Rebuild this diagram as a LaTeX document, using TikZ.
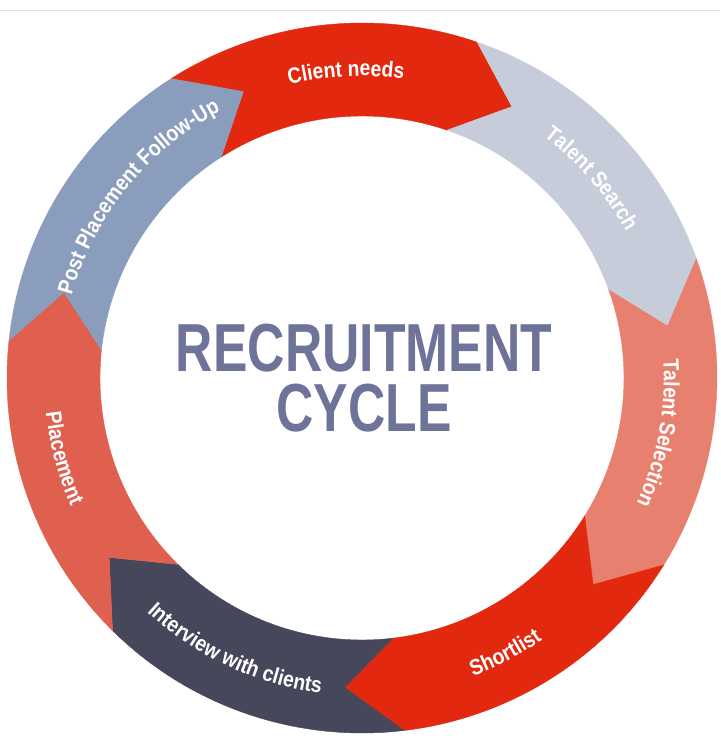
\documentclass[tikz,border=0pt]{standalone}
\usepackage{fontspec}
\newfontfamily\ringfont[FakeStretch=0.88]{Liberation Sans}
\newfontfamily\titlefont[FakeStretch=0.76]{Liberation Sans}
\usetikzlibrary{decorations.text}
\definecolor{redstep}{HTML}{E2280E}
\definecolor{searchstep}{HTML}{C6CCDA}
\definecolor{selectstep}{HTML}{E8806F}
\definecolor{interviewstep}{HTML}{47475C}
\definecolor{placestep}{HTML}{DF604E}
\definecolor{followstep}{HTML}{8B9DBC}
\definecolor{titlegray}{HTML}{6E7399}

\begin{document}
\begin{tikzpicture}[x=1pt,y=1pt,
    ringtext/.style={decorate, decoration={text along path, text align=center, text color=white,
        text={|\ringfont\bfseries\fontsize{22}{22}\selectfont|#1}}}]
    \useasboundingbox (-362,-376) rectangle (358,378);
    \draw[line width=1pt, color=black!13] (-362,367) -- (358,367);
    % ring of arrows, clockwise from the top
    \foreach \s/\c in {0/redstep,1/searchstep,2/selectstep,3/redstep,4/interviewstep,5/placestep,6/followstep}{
        \pgfmathsetmacro\a{122.5-51.4286*\s}
        \pgfmathsetmacro\b{\a-51.4286}
        \filldraw[fill=\c, draw=\c, line width=0.4pt]
        (\a:355) arc[start angle=\a, end angle=\b, radius=355]
        -- ({\b-10}:310) -- (\b:262)
        arc[start angle=\b, end angle=\a, radius=262]
        -- ({\a-10}:310) -- cycle;
    }
    % labels
    \path[ringtext=Client needs] (128:302) arc[start angle=128, end angle=58, radius=302];
    \path[ringtext=Talent Search] (76:302) arc[start angle=76, end angle=6, radius=302];
    \path[ringtext=Talent Selection] (24.5:302) arc[start angle=24.5, end angle=-45.5, radius=302];
    \path[ringtext=Shortlist] (-97.5:318) arc[start angle=-97.5, end angle=-27.5, radius=318];
    \path[ringtext=Interview with clients] (-150:318) arc[start angle=-150, end angle=-80, radius=318];
    \path[ringtext=Placement] (160:318) arc[start angle=160, end angle=230, radius=318];
    \path[ringtext=Post Placement Follow-Up] (181:302) arc[start angle=181, end angle=101, radius=302];
    \node[inner sep=0pt, align=center, text=titlegray, font={\titlefont\bfseries\fontsize{68}{60}\selectfont}]
        (title) at (2,0.3) {RECRUITMENT\\CYCLE};
\end{tikzpicture}
\end{document}
